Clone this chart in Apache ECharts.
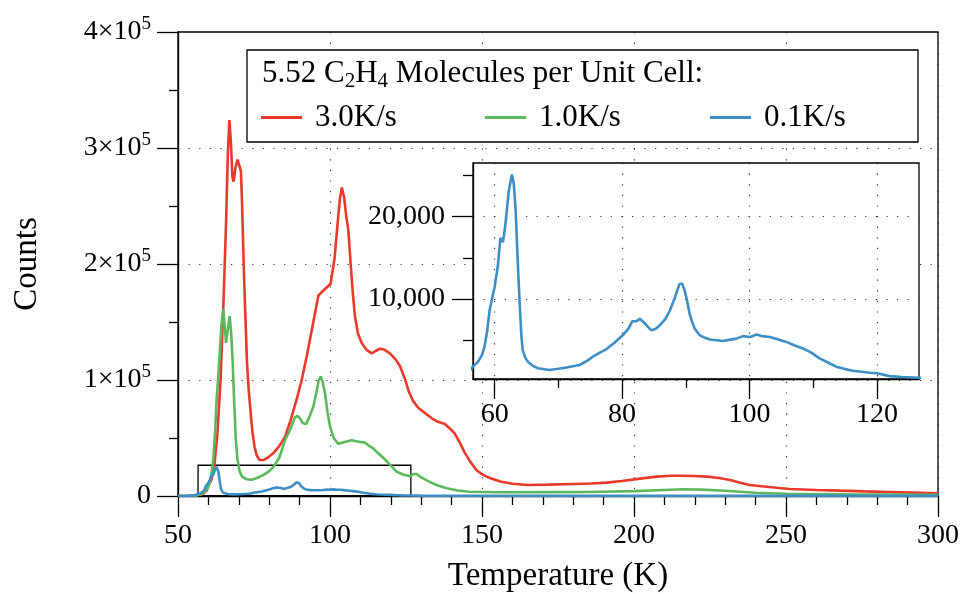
<!DOCTYPE html>
<html><head><meta charset="utf-8">
<script src="https://cdn.jsdelivr.net/npm/echarts@6/dist/echarts.min.js"></script>
<style>html,body{margin:0;padding:0;background:#fff}#c{width:963px;height:594px}</style>
</head><body><div id="c"></div>
<script>
// ---------- data ----------
const seriesNames = ['3.0K/s', '1.0K/s', '0.1K/s'];
const legendTitle = ['5.52 C', '2', 'H', '4', ' Molecules per Unit Cell:'];

const redT = [50,55,58,59.5,60,61,62,63,64,65,65.8,66.4,66.9,67.4,67.9,68.3,68.9,69.6,70.2,70.7,71.1,71.6,72.1,72.7,73.3,73.9,74.5,75.2,75.9,76.8,78,79.5,81.4,83.3,85.2,87,89,90.7,92.3,94.3,96.2,98.2,100.2,101.5,102.5,103.3,103.9,104.6,105.4,106,106.8,107.5,108.2,109.2,110.4,112,113.7,115,116.4,118,119.7,121.5,123,124.5,125.8,127.3,129,131,133.5,135.5,137.8,139.5,141,142.7,144.4,146.3,148.3,150.5,152.6,156,160,165,172,180,186,191,196,202,207.5,212,215,220,224,228,231.6,235,238,243.6,251,260,267.8,276,284,292,300];
const redV = [0,200,1500,5000,9000,14000,27000,55000,100000,170000,235000,295000,324000,305000,275000,271000,283000,290000,291000,280000,250000,200000,160000,115000,90000,72000,55000,42000,35000,31000,31000,33000,37000,43000,51000,65000,83000,100000,120000,147000,173000,178000,183000,205000,235000,257000,266000,258000,240000,230000,200000,175000,155000,140000,132000,126000,123000,125000,127000,126000,123000,118000,112000,102000,91000,82000,76000,72000,67000,64000,62000,58000,54000,46000,37000,29000,22000,18000,15500,12500,10500,9500,9800,10400,10800,11500,13000,15000,16700,17500,17500,17200,16700,15500,13800,11500,9500,8000,6000,5200,4600,4000,3500,2900,2300];

const greenT = [50,56,58,59,60,60.8,61.6,62.2,62.7,63.3,63.8,64.3,64.9,65.4,65.8,66.3,67,67.5,68,68.5,69,69.5,70.2,71,72.5,74.2,76,78,79.8,81.4,83.3,85.2,87,88.5,89.3,90.1,91,92.1,93.2,94.5,95.6,96.3,97,97.6,98.4,99.2,100,101.2,102.7,104,105.5,107.1,109,111.5,113,114.2,115.8,117.5,119.7,121.9,124,126.3,127.6,128.5,130,132.9,135.5,138.4,142,146,155,170,185,200,210,216,222,230,240,250,270,300];
const greenV = [0,500,2000,4500,8000,15000,31000,55000,83000,105000,126000,148000,161000,145000,132000,142000,155000,140000,115000,80000,50000,33000,22000,17000,14500,14000,15500,18000,21000,25000,33000,48000,58000,68000,69000,67000,63000,62000,68000,77000,90000,100000,103000,98000,88000,72000,60000,50000,45000,46000,47000,48000,47000,46000,43000,41000,37000,33000,27000,21000,18500,17000,19000,19000,16000,12000,9000,6600,4800,3700,3200,3300,3500,4200,5200,5800,5500,4500,2800,2000,1400,1000];

const blueT = [50,53,55,56,56.6,57.4,58,58.4,58.8,59.2,60,60.5,60.9,61.3,61.6,61.8,62.2,62.7,63,63.3,63.6,63.9,64.2,64.4,64.8,65.2,66,66.8,68.6,70,71.3,73.3,74.5,75.4,76.5,77.5,78.8,80.1,81,81.6,82.2,82.8,83.5,84.1,84.6,85.3,85.9,86.8,87.5,88.3,89,89.4,89.8,90.2,90.6,91,91.4,92.2,93,93.8,95.8,97.9,99,100,100.5,101.1,102,103.2,104.5,105.8,107,108.4,109.7,111,112.3,113.6,115,116.2,118.9,120,122,124,126.5,130,150,200,250,300];
const blueV = [0,100,500,1200,1800,2400,3200,4200,6000,8600,11500,14000,17400,16900,18500,19900,23000,25100,24000,20700,15000,9800,5500,3800,2900,2400,1900,1600,1400,1550,1700,2000,2500,3000,3500,3900,4700,5600,6400,7300,7300,7600,7100,6600,6200,6400,6800,7600,8600,10200,11800,11900,11100,9800,8200,7200,6400,5600,5300,5100,4900,5200,5500,5400,5500,5700,5500,5400,5100,4800,4400,4000,3500,2800,2300,1800,1500,1300,1050,1000,650,550,450,350,250,150,100,80];

const mainXRange = [50, 300];
const mainYRange = [0, 400000];
const insetXRange = [56.6, 126.6];
const insetYRange = [300, 26500];
const insetXTicks = [60, 80, 100, 120];
const insetYTicks = [10000, 20000];

// ---------- chart ----------
const FONT = 'Liberation Serif';
const colors = ['#e8392b', '#5cb85c', '#3e8ec6'];
const zip = (t, v) => t.map((x, i) => [x, v[i]]);
const dotted = { color: '#333', width: 1.2, type: [1.2, 9.4] };
const axLine = { color: '#000', width: 1.3 };
const sci = v => v === 0 ? '{b|0}' : '{b|' + (v / 1e5) + '×10}{s|5}';

const chart = echarts.init(document.getElementById('c'), null, { renderer: 'canvas' });
const option = {
  animation: false,
  backgroundColor: '#fff',
  grid: [
    { left: 178, top: 32, right: 25, bottom: 98, show: true, borderColor: '#000', borderWidth: 1.3,
      containLabel: false, outerBoundsMode: 'none' },
    { left: 473, top: 163, right: 44, bottom: 215, show: true, borderColor: '#000', borderWidth: 1.3,
      backgroundColor: '#fff', z: 5, containLabel: false, outerBoundsMode: 'none' }
  ],
  xAxis: [
    { gridIndex: 0, type: 'value', min: mainXRange[0], max: mainXRange[1], interval: 50,
      axisLine: { show: true, onZero: false, lineStyle: axLine },
      axisTick: { show: true, inside: false, length: 21, lineStyle: axLine },
      minorTick: { show: true, splitNumber: 5, length: 9, lineStyle: axLine },
      axisLabel: { margin: 26, fontFamily: FONT, fontSize: 28, color: '#000' },
      splitLine: { show: true, lineStyle: dotted },
      name: 'Temperature (K)', nameLocation: 'middle', nameGap: 64,
      nameTextStyle: { fontFamily: FONT, fontSize: 33, color: '#000' } },
    { gridIndex: 1, type: 'value', min: insetXRange[0], max: insetXRange[1], splitNumber: 4, z: 6,
      axisLine: { show: true, onZero: false, lineStyle: axLine },
      axisTick: { show: true, inside: false, length: 20, lineStyle: axLine, customValues: insetXTicks },
      minorTick: { show: true, splitNumber: 2, length: 9, lineStyle: axLine },
      axisLabel: { margin: 22, fontFamily: FONT, fontSize: 28, color: '#000', customValues: insetXTicks },
      splitLine: { show: true, lineStyle: dotted } }
  ],
  yAxis: [
    { gridIndex: 0, type: 'value', min: mainYRange[0], max: mainYRange[1], interval: 100000,
      axisLine: { show: true, onZero: false, lineStyle: axLine },
      axisTick: { show: true, inside: false, length: 21, lineStyle: axLine },
      minorTick: { show: true, splitNumber: 2, length: 9, lineStyle: axLine },
      axisLabel: { margin: 27, formatter: sci,
        rich: { b: { fontFamily: FONT, fontSize: 28, color: '#000' },
                s: { fontFamily: FONT, fontSize: 19, color: '#000', padding: [0, 0, 16, 0] } } },
      splitLine: { show: true, lineStyle: dotted },
      name: 'Counts', nameLocation: 'middle', nameGap: 134, nameRotate: 90,
      nameTextStyle: { fontFamily: FONT, fontSize: 33, color: '#000' } },
    { gridIndex: 1, type: 'value', min: insetYRange[0], max: insetYRange[1], splitNumber: 3, z: 6,
      axisLine: { show: true, onZero: false, lineStyle: axLine },
      axisTick: { show: true, inside: false, length: 21, lineStyle: axLine, customValues: insetYTicks },
      minorTick: { show: true, splitNumber: 2, length: 10, lineStyle: axLine },
      axisLabel: { margin: 28, fontFamily: FONT, fontSize: 28, color: '#000', customValues: insetYTicks,
        formatter: v => v.toLocaleString('en-US') },
      splitLine: { show: true, lineStyle: dotted } }
  ],
  legend: seriesNames.map((n, i) => ({
    data: [{ name: n, icon: 'rect' }], left: [261, 485, 710][i], top: 102, padding: 0,
    itemWidth: 41, itemHeight: 3, selectedMode: false, z: 20,
    textStyle: { fontFamily: FONT, fontSize: 31, color: '#000', lineHeight: 30, padding: [0, 0, 0, 8] }
  })),
  graphic: [
    { type: 'rect', z: 15, shape: { x: 247, y: 50, width: 671, height: 92 },
      style: { fill: '#fff', stroke: '#000', lineWidth: 1.3 } },
    { type: 'text', z: 21, x: 262, y: 74,
      style: {
        text: '{n|' + legendTitle[0] + '}{u|' + legendTitle[1] + '}{n|' + legendTitle[2] + '}{u|' + legendTitle[3] + '}{n|' + legendTitle[4] + '}',
        verticalAlign: 'middle',
        rich: {
          n: { fontFamily: FONT, fontSize: 31, fill: '#000', lineHeight: 36, verticalAlign: 'middle' },
          u: { fontFamily: FONT, fontSize: 21, fill: '#000', lineHeight: 21, verticalAlign: 'bottom' }
        }
      } }
  ],
  series: [
    { name: seriesNames[0], type: 'line', xAxisIndex: 0, yAxisIndex: 0, data: zip(redT, redV),
      symbol: 'none', showSymbol: false, color: colors[0], lineStyle: { width: 2.6, color: colors[0] }, z: 2 },
    { name: seriesNames[1], type: 'line', xAxisIndex: 0, yAxisIndex: 0, data: zip(greenT, greenV),
      symbol: 'none', showSymbol: false, color: colors[1], lineStyle: { width: 2.6, color: colors[1] }, z: 2 },
    { name: seriesNames[2], type: 'line', xAxisIndex: 0, yAxisIndex: 0, data: zip(blueT, blueV),
      symbol: 'none', showSymbol: false, color: colors[2], lineStyle: { width: 2.6, color: colors[2] }, z: 3,
      markArea: { silent: true, itemStyle: { color: 'rgba(0,0,0,0)', borderColor: '#000', borderWidth: 1.3 },
        data: [[{ coord: [insetXRange[0], insetYRange[0]] }, { coord: [insetXRange[1], insetYRange[1]] }]] } },
    { name: 'inset', type: 'line', xAxisIndex: 1, yAxisIndex: 1, data: zip(blueT, blueV),
      symbol: 'none', showSymbol: false, color: colors[2], lineStyle: { width: 2.6, color: colors[2] }, z: 8, clip: true }
  ]
};
chart.setOption(option);
</script>
</body></html>
